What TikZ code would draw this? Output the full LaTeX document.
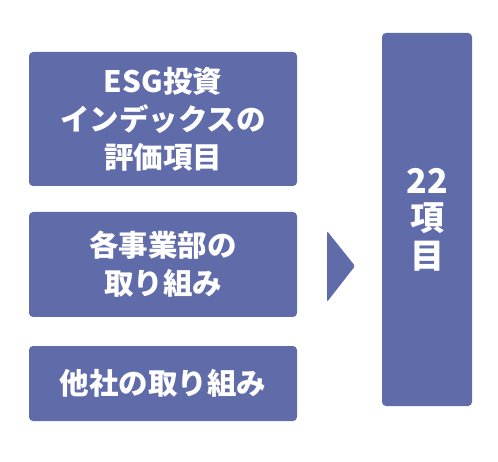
\documentclass[tikz,border=0pt]{standalone}
\usepackage{fontspec}
\usepackage{xcolor}
\usepackage{tikz}
\usetikzlibrary{positioning,calc}
\setmainfont{Noto Sans CJK JP}
\definecolor{slate}{RGB}{96,108,170}

\begin{document}
\begin{tikzpicture}[x=1pt,y=-1pt,
  item/.style={fill=slate,rounded corners=4pt,text=white,align=center,
    minimum width=268pt,inner sep=0pt,font=\fontsize{29.5}{38}\selectfont\bfseries}]
  \useasboundingbox (0,0) rectangle (498,462);
  % Source boxes
  \node[item,minimum height=134pt] (esg) at (163,119) {ESG投資\\インデックスの\\評価項目};
  \node[item,minimum height=105pt] (dept) at (163,264.5) {各事業部の\\取り組み};
  \node[item,minimum height=75pt] (other) at (163,383.5) {他社の取り組み};
  % Result
  \node[item,minimum width=90pt,minimum height=373pt,
    font=\fontsize{34}{37.5}\selectfont\bfseries] (total) at (427,219.5) {22\\項\\目};
  % Arrow
  \fill[slate,rounded corners=1.5pt] (327,231) -- (355,266) -- (327,302) -- cycle;
\end{tikzpicture}
\end{document}
